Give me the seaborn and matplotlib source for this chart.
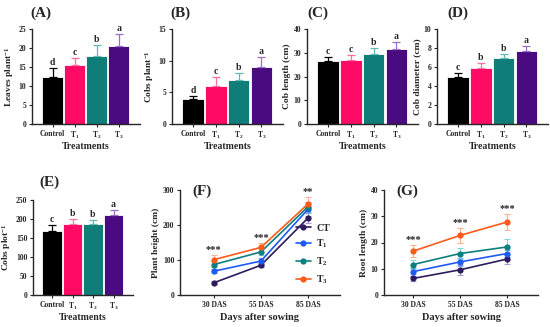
import numpy as np
import pandas as pd
import matplotlib
matplotlib.use("Agg")
import matplotlib.pyplot as plt
import seaborn as sns

sns.set_style("ticks")
plt.rcParams['font.family'] = ['Liberation Serif', 'DejaVu Serif']
plt.rcParams['font.weight'] = 'bold'
plt.rcParams['mathtext.fontset'] = 'custom'
plt.rcParams['mathtext.rm'] = 'Liberation Serif:bold'
plt.rcParams['mathtext.it'] = 'Liberation Serif:bold'
plt.rcParams['mathtext.bf'] = 'Liberation Serif:bold'

# ---------------- data ----------------
treatments = ["Control", "T$_1$", "T$_2$", "T$_3$"]
bar_colors = ["#000000", "#ff0a64", "#0f7d78", "#4a0a80"]
err_colors = ["#000000", "#ff6fa0", "#5fbcb5", "#9a6fc8"]

leaves_mean = [12.3, 15.5, 17.9, 20.6]
leaves_sd = [2.4, 1.9, 2.9, 3.0]
leaves_letters = ["d", "c", "b", "a"]

cobs_mean = [4.0, 6.0, 7.0, 9.0]
cobs_sd = [0.5, 1.5, 1.0, 1.6]
cobs_letters = ["d", "c", "b", "a"]

coblen_mean = [26.5, 27.0, 29.5, 31.7]
coblen_sd = [1.7, 2.0, 2.7, 3.0]
coblen_letters = ["c", "c", "b", "a"]

cobdia_mean = [5.0, 5.85, 6.9, 7.65]
cobdia_sd = [0.35, 0.55, 0.5, 0.6]
cobdia_letters = ["c", "b", "b", "a"]

cobsplot_mean = [169, 187, 187, 211]
cobsplot_sd = [16, 13, 10, 12]
cobsplot_letters = ["c", "b", "b", "a"]

days = ["30 DAS", "55 DAS", "85 DAS"]
series = ["CT", "T$_1$", "T$_2$", "T$_3$"]
line_colors = ["#2d1b5e", "#1f5af5", "#0e7f7f", "#ff5a1a"]
line_err_colors = ["#a99bd6", "#7fb0ff", "#7fd8dc", "#ffb08a"]

height_CT = [35, 85, 220]
height_T1 = [68, 97, 245]
height_T2 = [87, 123, 252]
height_T3 = [101, 136, 260]
height_sd_CT = [4, 6, 15]
height_sd_T1 = [5, 8, 18]
height_sd_T2 = [6, 10, 15]
height_sd_T3 = [12, 12, 20]
height_stars = ["***", "***", "**"]

root_CT = [6.3, 9.6, 13.7]
root_T1 = [8.9, 12.6, 15.8]
root_T2 = [11.6, 15.8, 18.3]
root_T3 = [16.7, 22.7, 27.8]
root_sd_CT = [1.0, 1.8, 1.8]
root_sd_T1 = [1.5, 1.5, 1.5]
root_sd_T2 = [1.8, 2.0, 3.0]
root_sd_T3 = [2.3, 2.8, 3.0]
root_stars = ["***", "***", "***"]

W, H = 550, 327
fig = plt.figure(figsize=(5.5, 3.27), dpi=100)


def add_ax(x0, x1, y0, y1):
    return fig.add_axes([x0 / W, 1 - y1 / H, (x1 - x0) / W, (y1 - y0) / H])


def style(ax):
    sns.despine(ax=ax)
    for s in ["left", "bottom"]:
        ax.spines[s].set_linewidth(1.0)
    ax.tick_params(axis='both', labelsize=5.5, width=0.8, length=2.5, pad=1.5)
    for lab in ax.get_xticklabels() + ax.get_yticklabels():
        lab.set_fontweight('bold')


def bar_panel(rect, means, sds, letters, ylim, step, ylabel, title, title_xy):
    ax = add_ax(*rect)
    df = pd.DataFrame({"trt": treatments, "val": means})
    sns.barplot(data=df, x="trt", y="val", hue="trt", palette=bar_colors,
                order=treatments, hue_order=treatments, legend=False,
                errorbar=None, width=0.95, saturation=1, edgecolor="white",
                linewidth=0.6, ax=ax)
    for i, (m, s) in enumerate(zip(means, sds)):
        ax.errorbar(i, m, yerr=[[0], [s]], color=err_colors[i], capsize=3,
                    elinewidth=0.9, capthick=0.9, zorder=3)
        ax.text(i, m + s + ylim * 0.01, letters[i], ha='center', va='bottom',
                fontsize=7, fontweight='bold')
    ax.set_xlim(-0.93, 3.95)
    ax.set_ylim(0, ylim)
    ax.set_yticks(np.arange(0, ylim + 0.001, step))
    ax.set_xlabel("Treatments", fontsize=7, fontweight='bold', labelpad=1)
    ax.set_ylabel(ylabel, fontsize=6.8, fontweight='bold', labelpad=2)
    style(ax)
    fig.text(title_xy[0] / W, 1 - title_xy[1] / H, title, fontsize=11,
             fontweight='bold', ha='center', va='center')
    return ax


bar_panel((32, 140, 29, 124), leaves_mean, leaves_sd, leaves_letters, 25, 5,
          "Leaves plant$^{-1}$", "(A)", (41, 13))
bar_panel((172, 283, 29, 124), cobs_mean, cobs_sd, cobs_letters, 15, 5,
          "Cobs plant$^{-1}$", "(B)", (180, 13))
bar_panel((307, 418, 29, 124), coblen_mean, coblen_sd, coblen_letters, 40, 10,
          "Cob length (cm)", "(C)", (318, 13))
bar_panel((437, 548, 29, 124), cobdia_mean, cobdia_sd, cobdia_letters, 10, 2,
          "Cob diameter (cm)", "(D)", (458, 13))
bar_panel((33, 133, 200, 295), cobsplot_mean, cobsplot_sd, cobsplot_letters, 250, 50,
          "Cobs plot$^{-1}$", "(E)", (49, 182))


def line_panel(rect, vals, sds, stars, ylim, step, ylabel, title, xlim, legend):
    ax = add_ax(*rect)
    rows = []
    for name, v in zip(series, vals):
        for j, d in enumerate(days):
            rows.append({"day": j, "val": v[j], "trt": name})
    df = pd.DataFrame(rows)
    sns.lineplot(data=df, x="day", y="val", hue="trt", hue_order=series,
                 palette=line_colors, marker="o", markersize=4.5,
                 markeredgewidth=0, linewidth=1.2, errorbar=None,
                 legend=legend, ax=ax)
    for k, (v, s) in enumerate(zip(vals, sds)):
        ax.errorbar(range(3), v, yerr=s, fmt='none', ecolor=line_err_colors[k],
                    elinewidth=0.8, capsize=2.5, capthick=0.8, zorder=1)
    for j in range(3):
        top = max(v[j] + s[j] for v, s in zip(vals, sds))
        ax.text(j, top + ylim * 0.01, stars[j], ha='center', va='bottom',
                fontsize=7.5, fontweight='bold')
    ax.set_xlim(*xlim)
    ax.set_ylim(0, ylim)
    ax.set_yticks(np.arange(0, ylim + 0.001, step))
    ax.set_xticks(range(3))
    ax.set_xticklabels(days)
    ax.set_xlabel("Days after sowing", fontsize=7.5, fontweight='bold', labelpad=3)
    ax.set_ylabel(ylabel, fontsize=6.8, fontweight='bold', labelpad=2)
    style(ax)
    ax.text(0.08, 0.985, title, transform=ax.transAxes, fontsize=11,
            fontweight='bold', ha='left', va='center')
    if legend:
        leg = ax.legend(title=None, frameon=False, loc='lower left',
                        bbox_to_anchor=(0.68, 0.02), fontsize=7,
                        handlelength=1.6, labelspacing=0.55, handletextpad=0.5,
                        borderpad=0.2)
        for t in leg.get_texts():
            t.set_fontweight('bold')
    return ax


line_panel((180, 340, 190, 295),
           [height_CT, height_T1, height_T2, height_T3],
           [height_sd_CT, height_sd_T1, height_sd_T2, height_sd_T3],
           height_stars, 300, 100, "Plant height (cm)", "(F)", (-0.72, 2.68), True)
line_panel((384, 538, 190, 295),
           [root_CT, root_T1, root_T2, root_T3],
           [root_sd_CT, root_sd_T1, root_sd_T2, root_sd_T3],
           root_stars, 40, 10, "Root length (cm)", "(G)", (-0.62, 2.66), False)

fig.savefig("out.png", dpi=100)
